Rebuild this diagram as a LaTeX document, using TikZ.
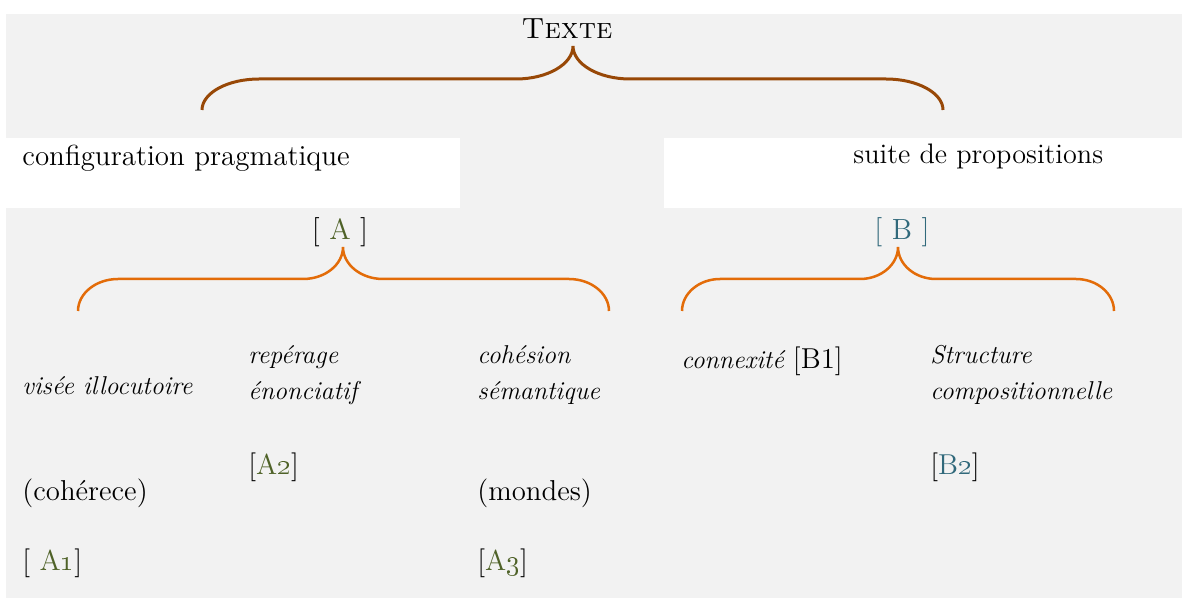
\documentclass[tikz,border=0pt]{standalone}
\definecolor{panel}{HTML}{F2F2F2}
\definecolor{bracetop}{HTML}{984807}
\definecolor{bracesub}{HTML}{E36C09}
\definecolor{labA}{HTML}{4F6228}
\definecolor{labB}{HTML}{31697B}

% curly brace: style, left x, right x, tip x, end y, flat y, tip y, curve radius
\newcommand\curlybrace[8]{%
  \draw[#1] (#2,#5) .. controls (#2,{#6+0.45*(#5-#6)}) and ({#2+0.45*#8},#6) .. ({#2+#8},#6)
    -- ({#4-#8},#6) .. controls ({#4-0.45*#8},#6) and (#4,{#6-0.45*(#6-#7)}) .. (#4,#7)
    .. controls (#4,{#6-0.45*(#6-#7)}) and ({#4+0.45*#8},#6) .. ({#4+#8},#6)
    -- ({#3-#8},#6) .. controls ({#3-0.45*#8},#6) and (#3,{#6+0.45*(#5-#6)}) .. (#3,#5);}

\begin{document}
\begin{tikzpicture}[x=0.5pt,y=-0.5pt,
  topbrace/.style={draw=bracetop,line width=1.5pt},
  subbrace/.style={draw=bracesub,line width=1.25pt},
  head/.style={anchor=base west,inner sep=0pt,font=\fontsize{14.6}{17}\selectfont},
  term/.style={anchor=base west,inner sep=0pt,align=left,font=\fontsize{12.9}{17.5}\selectfont\itshape},
  ref/.style={anchor=base west,inner sep=0pt,font=\fontsize{14.4}{17}\selectfont}]
\useasboundingbox (0,0) rectangle (1182,598);

% panels
\fill[white] (0,0) rectangle (1182,598);
\fill[panel] (6,14) rectangle (1182,598);
\fill[white] (6,138) rectangle (460,208);
\fill[white] (664,138) rectangle (1182,208);

% top level
\node[head,anchor=base] (texte) at (567,39) {\textsc{Texte}};
\node[head,font=\fontsize{14.5}{17}\selectfont] (config) at (22,166) {configuration pragmatique};
\node[head,font=\fontsize{14.1}{17}\selectfont] (suite) at (853,164) {suite de propositions};

\curlybrace{topbrace}{202}{943}{573}{110}{79}{46}{57}

% second level
\node[head,anchor=base] (A) at (340,240) {[ \textcolor{labA}{A} ]};
\node[head,anchor=base,text=labB] (B) at (902,240) {[ B ]};

\curlybrace{subbrace}{78}{609}{343}{311}{279}{247}{40}
\curlybrace{subbrace}{682}{1114}{898}{311}{279}{247}{38}

% A branch
\node[term] (visee) at (22,394) {visée illocutoire};
\node[term] (reperage) at (248,399) {repérage\\énonciatif};
\node[term] (cohesion) at (477,399) {cohésion\\sémantique};
\node[ref] (A2) at (248,474) {[\textcolor{labA}{A\oldstylenums{2}}]};
\node[ref] (coherece) at (22,500) {(cohérece)};
\node[ref] (mondes) at (477,500) {(mondes)};
\node[ref] (A1) at (22,570) {[ \textcolor{labA}{A\oldstylenums{1}}]};
\node[ref] (A3) at (477,570) {[\textcolor{labA}{A\oldstylenums{3}}]};

% B branch
\node[term] (connexite) at (681,369) {connexité \upshape\fontsize{14.4}{17}\selectfont[B1]};
\node[term] (structure) at (930,399) {Structure\\compositionnelle};
\node[ref] (B2) at (930,474) {[\textcolor{labB}{B\oldstylenums{2}}]};
\end{tikzpicture}
\end{document}
